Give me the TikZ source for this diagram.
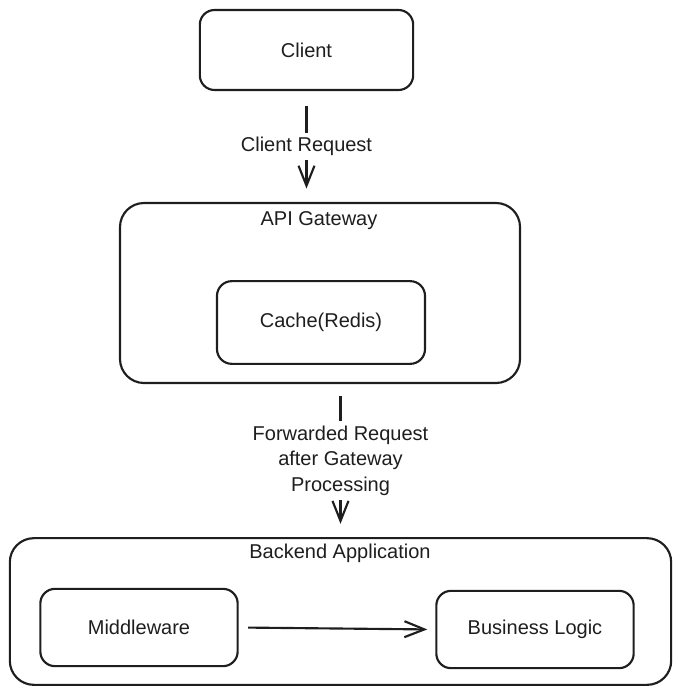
\documentclass[tikz,border=0pt]{standalone}
\usepackage{fontspec}
\setmainfont{Liberation Sans}
\usepackage{xcolor}
\usetikzlibrary{arrows.meta,positioning,calc}
\definecolor{inkblack}{RGB}{30,30,30}
\tikzset{
    % Box styles
    outerbox/.style={
        rectangle, draw=inkblack, line width=1.6pt,
        rounded corners=18pt, inner sep=0pt
    },
    innerbox/.style={
        rectangle, draw=inkblack, line width=1.6pt,
        rounded corners=11pt, inner sep=0pt
    },
    lbl/.style={
        font=\fontsize{15}{19}\selectfont, text=inkblack, align=center
    },
    flow/.style={
        draw=inkblack, line width=1.6pt,
        -{Straight Barb[length=15pt, width=12pt, line width=1.6pt]}
    }
}
\begin{document}
\begin{tikzpicture}[x=0.75pt, y=-0.75pt]
\useasboundingbox (0,0) rectangle (681,692);

% Client on top
\node[innerbox, minimum width=160pt, minimum height=60pt, lbl] (client) at (306.5,50) {Client};

% API gateway with its cache
\node[outerbox, minimum width=300pt, minimum height=135pt] (gateway) at (320,293) {};
\node[lbl] (gwtitle) at (319,221) {API Gateway};
\node[innerbox, minimum width=156pt, minimum height=62pt, lbl] (cache) at (321,322.5) {Cache(Redis)};

% Backend application
\node[outerbox, minimum width=496pt, minimum height=110pt] (backend) at (340.5,611.5) {};
\node[lbl] (betitle) at (340,553) {Backend Application};
\node[innerbox, minimum width=148pt, minimum height=58pt, lbl] (middleware) at (139,627.5) {Middleware};
\node[innerbox, minimum width=148pt, minimum height=58pt, lbl] (business) at (535,629.5) {Business Logic};

% Request flow
\draw[flow, shorten <=11pt, shorten >=10pt] (client.south) -- node[lbl, fill=white] {Client Request} (client.south |- gateway.north);
\draw[flow, shorten <=9pt, shorten >=10pt] (backend.north |- gateway.south) -- node[lbl, fill=white] {Forwarded Request\\after Gateway\\Processing} (backend.north);
\draw[flow, shorten <=7pt, shorten >=6pt] (middleware.east) -- (business.west);

\end{tikzpicture}
\end{document}
